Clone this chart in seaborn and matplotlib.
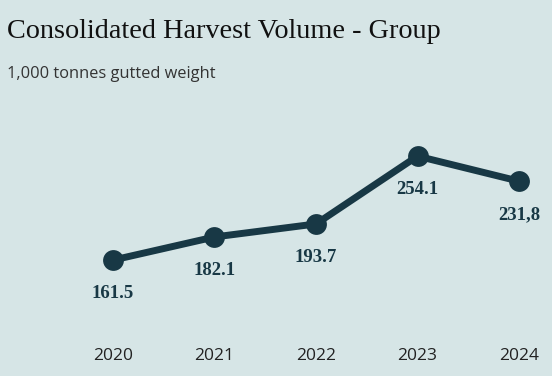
import matplotlib
matplotlib.use("Agg")
import matplotlib.pyplot as plt
import seaborn as sns
import pandas as pd

# Data
years = [2020, 2021, 2022, 2023, 2024]
volumes = [161.5, 182.1, 193.7, 254.1, 231.8]
labels = ["161.5", "182.1", "193.7", "254.1", "231,8"]

bg = "#d6e5e6"
navy = "#183845"

df = pd.DataFrame({"year": years, "volume": volumes})

sns.set_style("white")
fig = plt.figure(figsize=(5.52, 3.76), dpi=100, facecolor=bg)
ax = fig.add_axes([0, 0.0957, 1, 0.638])
ax.set_facecolor(bg)

sns.lineplot(data=df, x="year", y="volume", ax=ax, color=navy,
             linewidth=5, marker="o", markersize=15, markeredgewidth=0)

# value labels under each point
for x, y, t in zip(years, volumes, labels):
    ax.annotate(t, (x, y), xytext=(0, -24), textcoords="offset points",
                ha="center", va="center", fontsize=13.5, fontweight="bold",
                family="Liberation Serif", color=navy)

ax.set_xlim(2018.887, 2024.325)
ax.set_ylim(90.3, 304.0)
ax.set_xticks(years)
ax.set_xticklabels([str(y) for y in years], family="Open Sans",
                   fontsize=12.5, color="#222222")
ax.tick_params(axis="x", length=0, pad=6)
ax.set_yticks([])
ax.set_xlabel("")
ax.set_ylabel("")
sns.despine(ax=ax, left=True, bottom=True)

fig.text(0.012, 0.899, "Consolidated Harvest Volume - Group",
         family="Liberation Serif", fontsize=20.3, color="#111111",
         va="baseline")
fig.text(0.012, 0.793, "1,000 tonnes gutted weight", family="Open Sans",
         fontsize=11.8, color="#333333", va="baseline")

fig.savefig("out.png", dpi=100, facecolor=bg)
